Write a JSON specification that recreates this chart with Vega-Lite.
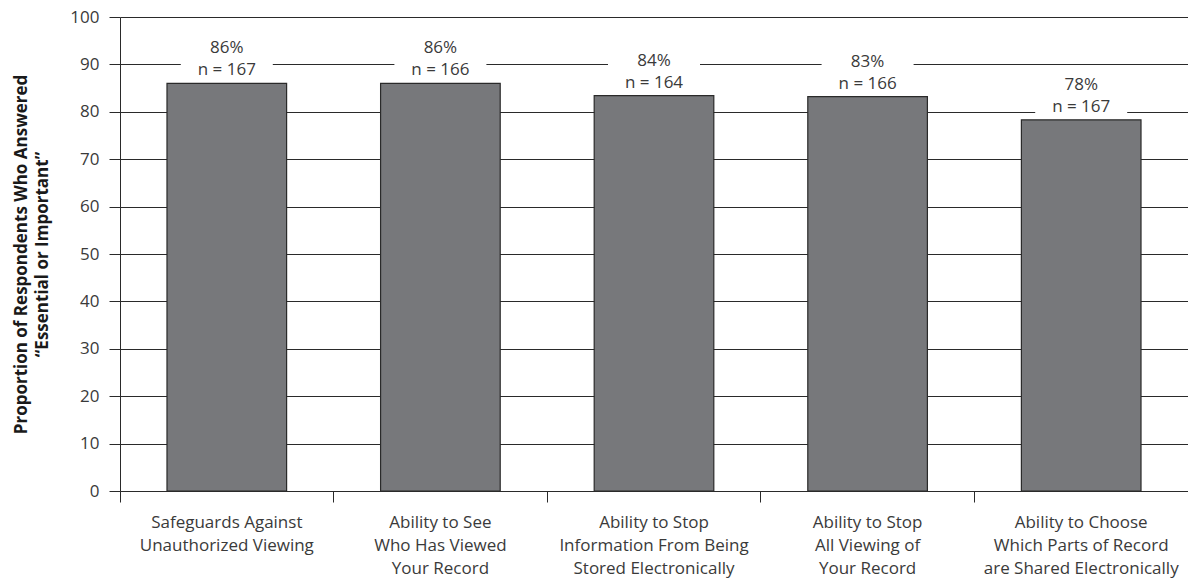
{
  "$schema": "https://vega.github.io/schema/vega-lite/v6.json",
  "width": 1068,
  "height": 474,
  "autosize": {"type": "none"},
  "padding": {"left": 120, "top": 17, "right": 0, "bottom": 89},
  "background": "white",
  "config": {
    "font": "Open Sans",
    "view": {"stroke": null},
    "axis": {"labelColor": "#3a3a3a", "titleColor": "#1a1a1a", "domainColor": "#2a2a2a", "tickColor": "#2a2a2a", "gridColor": "#2a2a2a", "gridOpacity": 1}
  },
  "data": {
    "values": [
      {"item": "Safeguards Against|Unauthorized Viewing", "pct": 86.0, "label": "86%", "n": "n = 167"},
      {"item": "Ability to See|Who Has Viewed|Your Record", "pct": 86.0, "label": "86%", "n": "n = 166"},
      {"item": "Ability to Stop|Information From Being|Stored Electronically", "pct": 83.4, "label": "84%", "n": "n = 164"},
      {"item": "Ability to Stop|All Viewing of|Your Record", "pct": 83.2, "label": "83%", "n": "n = 166"},
      {"item": "Ability to Choose|Which Parts of Record|are Shared Electronically", "pct": 78.3, "label": "78%", "n": "n = 167"}
    ]
  },
  "encoding": {
    "x": {
      "field": "item",
      "type": "nominal",
      "sort": null,
      "scale": {"paddingInner": 0, "paddingOuter": 0},
      "axis": {
        "title": null,
        "labelAngle": 0,
        "labelExpr": "split(datum.label, '|')",
        "labelFontSize": 17,
        "labelLineHeight": 23,
        "labelLimit": 0,
        "labelPadding": 12,
        "tickSize": 11,
        "bandPosition": 0,
        "domain": true,
        "grid": false
      }
    },
    "y": {
      "field": "pct",
      "type": "quantitative",
      "scale": {"domain": [0, 100], "nice": false},
      "axis": {
        "values": [0, 10, 20, 30, 40, 50, 60, 70, 80, 90, 100],
        "title": ["Proportion of Respondents Who Answered", "“Essential or Important”"],
        "titleFontSize": 17,
        "titleFontWeight": "bold",
        "titleLineHeight": 21,
        "titlePadding": 18,
        "labelFontSize": 17,
        "labelPadding": 10,
        "tickSize": 11,
        "grid": true,
        "domain": true
      }
    }
  },
  "layer": [
    {
      "mark": {"type": "bar", "fill": "#77787b", "stroke": "#2a2a2a", "strokeWidth": 1.2, "width": {"band": 0.56}},
      "encoding": {}
    },
    {
      "mark": {"type": "bar", "fill": "white", "width": 92, "yOffset": -46, "y2Offset": -6},
      "encoding": {"y2": {"field": "pct"}}
    },
    {
      "mark": {"type": "text", "fontSize": 17, "color": "#3a3a3a", "baseline": "alphabetic", "dy": -8},
      "encoding": {"text": {"field": "n"}}
    },
    {
      "mark": {"type": "text", "fontSize": 17, "color": "#3a3a3a", "baseline": "alphabetic", "dy": -30},
      "encoding": {"text": {"field": "label"}}
    }
  ]
}
